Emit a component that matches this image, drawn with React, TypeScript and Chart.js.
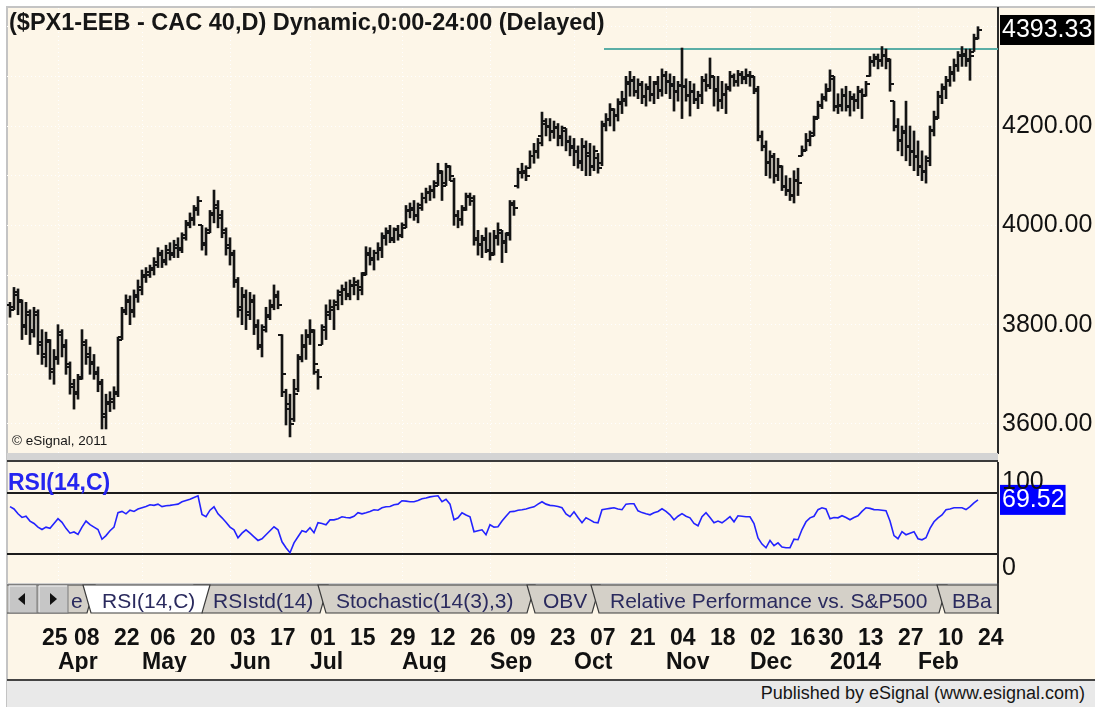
import React, { useEffect, useRef } from 'react';
import { Chart, registerables } from 'chart.js';

Chart.register(...registerables);

const FONT = '"Liberation Sans", Arial, Helvetica, sans-serif';
const CREAM = '#FDF6E8';

// ---- OHLC (one entry per trading day, first visible bar = index 0) ----
const opens = [
  3840,3835,3865,3845,3795,3825,3785,3825,3765,3735,
  3765,3705,3735,3785,3755,3715,3675,3665,3695,3765,
  3735,3725,3700,3685,3615,3645,3645,3665,3775,3825,
  3845,3830,3855,3875,3895,3900,3915,3920,3945,3930,
  3945,3945,3955,3955,3980,4005,4015,4035,4000,3965,
  3990,4025,4035,4015,3990,3955,3945,3885,3835,3855,
  3825,3845,3795,3755,3795,3815,3840,3855,3780,3665,
  3630,3610,3670,3735,3755,3780,3785,3705,3760,3795,
  3825,3830,3845,3865,3872,3862,3878,3880,3875,3905,
  3940,3930,3945,3955,3978,3988,3970,3992,3978,4000,
  4028,4035,4018,4040,4055,4068,4072,4085,4105,4085,
  4118,4090,4018,4012,4035,4058,4050,3970,3962,3975,
  3948,3945,3978,3985,3968,3985,4045,4080,4108,4105,
  4115,4140,4148,4180,4205,4198,4188,4198,4175,4190,
  4168,4160,4148,4125,4158,4145,4118,4135,4125,4205,
  4212,4232,4222,4248,4255,4288,4292,4268,4282,4258,
  4278,4262,4288,4272,4302,4288,4280,4268,4282,4278,
  4262,4268,4252,4262,4292,4282,4298,4270,4252,4262,
  4278,4298,4288,4302,4298,4302,4298,4270,4178,4158,
  4128,4138,4102,4118,4078,4072,4062,4092,4140,4152,
  4172,4185,4218,4242,4258,4275,4295,4238,4242,4262,
  4238,4258,4252,4268,4262,4300,4328,4338,4332,4342,
  4330,4250,4198,4172,4190,4158,4148,4138,4118,4108,
  4135,4192,4218,4258,4278,4292,4308,4322,4342,4340,
  4330,4350,4378,
];
const highs = [
  3845,3875,3872,3850,3845,3830,3835,3830,3790,3785,
  3770,3750,3800,3790,3770,3725,3690,3700,3790,3770,
  3755,3740,3715,3690,3660,3665,3675,3775,3835,3860,
  3858,3870,3890,3910,3915,3920,3935,3955,3950,3960,
  3965,3970,3975,3985,4010,4025,4040,4058,4000,3995,
  4030,4071,4050,4030,3995,3975,3950,3895,3875,3870,
  3865,3860,3810,3800,3835,3850,3880,3868,3780,3670,
  3660,3690,3740,3780,3790,3810,3790,3710,3800,3840,
  3850,3850,3870,3880,3886,3890,3895,3890,3905,3957,
  3955,3950,3965,3985,3995,4000,3995,4000,4005,4040,
  4045,4050,4045,4065,4075,4080,4090,4125,4110,4125,
  4120,4095,4030,4040,4065,4065,4060,3990,3980,3995,
  3985,3990,4005,3990,3985,4050,4050,4115,4125,4120,
  4150,4165,4175,4228,4215,4215,4210,4205,4200,4195,
  4180,4175,4160,4175,4170,4165,4160,4145,4210,4225,
  4245,4235,4255,4270,4300,4310,4300,4295,4290,4285,
  4300,4290,4300,4315,4310,4305,4300,4290,4357,4295,
  4290,4285,4270,4300,4305,4337,4300,4300,4290,4285,
  4310,4305,4312,4310,4315,4310,4300,4280,4190,4170,
  4150,4145,4135,4120,4100,4095,4110,4115,4160,4185,
  4190,4220,4250,4265,4285,4313,4300,4265,4275,4280,
  4270,4265,4280,4275,4290,4340,4345,4345,4360,4355,
  4335,4250,4215,4200,4250,4200,4190,4170,4150,4140,
  4200,4230,4270,4285,4300,4320,4335,4350,4360,4355,
  4355,4385,4400,
];
const lows = [
  3815,3830,3820,3770,3780,3760,3775,3740,3720,3715,
  3690,3680,3720,3735,3700,3660,3630,3650,3690,3720,
  3700,3690,3665,3590,3590,3625,3630,3655,3770,3820,
  3800,3815,3845,3860,3885,3895,3900,3915,3915,3920,
  3930,3935,3935,3945,3970,3995,4000,4020,3950,3940,
  3985,4005,3995,3975,3940,3920,3875,3815,3800,3790,
  3810,3780,3750,3735,3785,3810,3830,3832,3655,3598,
  3574,3605,3665,3725,3730,3760,3700,3670,3760,3770,
  3810,3790,3830,3840,3850,3850,3860,3850,3860,3900,
  3920,3910,3930,3935,3960,3965,3965,3970,3975,3995,
  4015,4010,4005,4030,4045,4050,4055,4080,4050,4080,
  4090,4000,3995,4000,4030,4040,3960,3940,3935,3945,
  3930,3940,3960,3925,3945,3970,4020,4075,4095,4090,
  4115,4125,4135,4160,4180,4170,4175,4160,4160,4150,
  4140,4120,4115,4110,4100,4100,4110,4105,4120,4190,
  4200,4190,4210,4225,4240,4260,4260,4255,4245,4240,
  4250,4245,4255,4260,4265,4255,4230,4250,4215,4250,
  4220,4245,4235,4245,4270,4275,4240,4230,4235,4225,
  4270,4280,4280,4285,4285,4280,4265,4170,4150,4100,
  4095,4085,4090,4070,4060,4050,4045,4060,4140,4150,
  4160,4180,4215,4235,4250,4270,4230,4225,4230,4230,
  4220,4230,4235,4215,4260,4300,4320,4315,4320,4315,
  4270,4190,4150,4140,4130,4120,4110,4100,4090,4085,
  4120,4180,4215,4245,4255,4280,4290,4310,4320,4320,
  4292,4350,4375,
];
const closes = [
  3830,3860,3850,3800,3820,3790,3820,3760,3740,3770,
  3710,3730,3780,3760,3720,3680,3660,3690,3760,3740,
  3720,3705,3680,3620,3640,3650,3660,3770,3830,3850,
  3826,3860,3870,3900,3906,3910,3926,3940,3926,3950,
  3940,3960,3950,3975,4000,4010,4030,4050,3960,3985,
  4020,4040,4020,3985,3960,3940,3890,3830,3860,3820,
  3850,3800,3760,3790,3820,3835,3860,3840,3700,3640,
  3600,3660,3730,3760,3775,3790,3720,3695,3790,3820,
  3835,3840,3860,3870,3858,3880,3885,3870,3900,3945,
  3935,3945,3950,3975,3985,3975,3990,3980,3995,4030,
  4030,4020,4035,4055,4065,4070,4080,4110,4080,4120,
  4100,4020,4010,4030,4060,4055,3975,3960,3970,3950,
  3940,3975,3990,3965,3980,4040,4035,4105,4110,4100,
  4140,4150,4165,4210,4200,4190,4195,4180,4195,4170,
  4155,4150,4130,4160,4140,4120,4150,4115,4200,4215,
  4235,4220,4245,4250,4285,4290,4270,4285,4260,4275,
  4265,4285,4270,4300,4290,4285,4270,4280,4280,4260,
  4270,4255,4260,4290,4280,4300,4275,4250,4265,4275,
  4300,4290,4305,4295,4300,4300,4275,4180,4160,4125,
  4140,4100,4120,4080,4070,4060,4090,4085,4150,4170,
  4180,4215,4240,4255,4270,4300,4240,4240,4260,4240,
  4255,4250,4270,4260,4285,4330,4335,4330,4340,4335,
  4285,4200,4170,4185,4160,4150,4140,4120,4110,4130,
  4190,4215,4260,4275,4290,4305,4320,4340,4345,4335,
  4340,4375,4393.33,
];

// ---- RSI(14,C), one value per bar ----
const rsi = [
  64,62,58,55,56,52,50,47,45,47,
  46,50,54,51,46,42,43,41,47,52,
  49,47,45,37,40,44,47,59,60,58,
  61,60,62,63,64,65.5,65,66,64,64.7,
  65,65.5,66,68,69,70,71.5,72.9,57.5,55.6,
  61,63.8,58,54.7,51,47,44.8,38.2,42,44.8,
  42,39,36,37.4,40.7,44,47.3,44.8,34.9,30,
  25.8,34,39,44,43,46.5,42.4,50.6,50,49,
  53,53,54,55.6,55,54.7,56,58.9,58,58.9,
  60,61.4,61,63,63.8,64,65.5,66,68.8,68.5,
  68,68,69,70.5,71,72,72.5,72.9,68,70,
  66,53.1,54.7,58.9,57,55.6,43.2,44,44.8,40.7,
  49,47,47.3,52,56,59.7,60,61,61.4,62,
  63,63.8,66,68,66,65,64.7,64,63,58,
  55.6,59.7,55,50.6,54.7,53,51,50.6,61.4,62,
  62.5,63,62,61.4,66,66.3,66.3,60.5,59,58,
  57.2,58.9,60,62.2,60,57.2,53.1,56,58.1,56,
  54.7,50,48.1,55.6,58.9,55,50.6,52,50.6,53,
  55.6,51.4,56.4,56,55.6,55.6,50,38,33,29.9,
  36,31.6,34,30.5,29.9,30,37,36.6,45,51.4,
  54.7,56,61.4,63,62,53.9,55,54.7,56.4,55,
  53.1,55,56.4,60,63,62.5,61.5,61.4,61,60.5,
  52,40,37.4,43.2,40.7,42,43.2,37.4,36.5,38.2,
  46,51.4,54.7,57,61.4,62,63,63,63,61.5,
  64,67.1,69.52,
];

// ---- axes / levels ----
const LAST_PRICE = 4393.33;
const LAST_RSI = 69.52;
const priceGridTicks = [3600, 3700, 3800, 3900, 4000, 4100, 4200, 4300, 4393.33, 4400];
const priceLabelTicks = [3600, 3800, 4000, 4200];
const resistanceLevel = 4355;
const resistanceStart = 148.5;
const rsiBands = [25, 75];
const rsiScaleLabels = [{ at: 12.8, text: '0' }, { at: 84.3, text: '100' }];

const dayTickPos = [8, 16, 26, 35, 45, 55, 65, 75, 85, 95, 105, 115, 125, 135, 145, 155, 165, 175, 185, 195, 202, 212, 222, 232, 242];
const dayTickLabels = ['25', '08', '22', '06', '20', '03', '17', '01', '15', '29', '12', '26', '09', '23', '07', '21', '04', '18', '02', '16', '30', '13', '27', '10', '24'];
const monthTickPos = [12, 33, 55, 75, 98, 120, 141, 164, 185, 205, 227];
const monthTickLabels = ['Apr', 'May', 'Jun', 'Jul', 'Aug', 'Sep', 'Oct', 'Nov', 'Dec', '2014', 'Feb'];

const X_MIN = -0.75;
const X_MAX = 247;
const PRICE_MIN = 3541.6;
const PRICE_MAX = 4437.6;

const tabs = [
  { label: 'e', L: -40, R: 95, tx: 71 },
  { label: 'RSIstd(14)', L: 194, R: 328, tx: 213 },
  { label: 'Stochastic(14(3),3)', L: 318, R: 535, tx: 336 },
  { label: 'OBV', L: 527, R: 600, tx: 543 },
  { label: 'Relative Performance vs. S&P500', L: 591, R: 947, tx: 610 },
  { label: 'BBa', L: 937, R: 1060, tx: 952 },
];
const activeTab = { label: 'RSI(14,C)', L: 83, R: 210, tx: 102 };

function makeTick(left: boolean) {
  const c = document.createElement('canvas');
  c.width = 8;
  c.height = 2;
  const g = c.getContext('2d')!;
  g.fillStyle = '#141414';
  g.fillRect(left ? 0 : 4, 0, 4, 2);
  return c;
}

export default function App() {
  const refA = useRef<HTMLCanvasElement>(null);
  const refB = useRef<HTMLCanvasElement>(null);

  useEffect(() => {
    const openTick = makeTick(true);
    const closeTick = makeTick(false);

    const priceChart = new Chart(refA.current!, {
      type: 'scatter',
      data: {
        datasets: [
          {
            type: 'bar',
            data: highs.map((h, k) => ({ x: k, y: [lows[k], h] })) as any,
            backgroundColor: '#141414',
            borderWidth: 0,
            barThickness: 2,
          } as any,
          {
            type: 'scatter',
            data: opens.map((o, k) => ({ x: k, y: o })),
            pointStyle: openTick as any,
            pointRadius: 4,
          },
          {
            type: 'scatter',
            data: closes.map((c, k) => ({ x: k, y: c })),
            pointStyle: closeTick as any,
            pointRadius: 4,
          },
          {
            type: 'line',
            data: [
              { x: resistanceStart, y: resistanceLevel },
              { x: X_MAX, y: resistanceLevel },
            ],
            borderColor: '#5BAEA6',
            borderWidth: 2,
            pointRadius: 0,
          },
        ],
      },
      options: {
        responsive: false,
        animation: false,
        events: [],
        layout: { padding: { left: 7, top: 8, right: 0, bottom: 9 } },
        plugins: { legend: { display: false }, tooltip: { enabled: false } },
        scales: {
          x: {
            type: 'linear',
            min: X_MIN,
            max: X_MAX,
            offset: false,
            afterBuildTicks: (s: any) => {
              s.ticks = monthTickPos.map((v) => ({ value: v }));
            },
            afterFit: (s: any) => {
              s.height = 0;
              s.paddingLeft = 0;
              s.paddingRight = 0;
            },
            ticks: { display: false, autoSkip: false },
            grid: { color: '#FFFFFF', lineWidth: 1, drawTicks: false, offset: false },
            border: { display: false, dash: [1, 3] },
          },
          y: {
            type: 'linear',
            position: 'right',
            min: PRICE_MIN,
            max: PRICE_MAX,
            afterBuildTicks: (s: any) => {
              s.ticks = priceGridTicks.map((v) => ({ value: v }));
            },
            afterFit: (s: any) => {
              s.width = 97;
              s.paddingTop = 0;
              s.paddingBottom = 0;
            },
            ticks: {
              autoSkip: false,
              padding: 4,
              font: { family: FONT, size: 25 },
              color: (ctx: any) => (ctx.tick && ctx.tick.value === LAST_PRICE ? '#FFFFFF' : '#111111'),
              showLabelBackdrop: (ctx: any) => !!ctx.tick && ctx.tick.value === LAST_PRICE,
              backdropColor: '#000000',
              backdropPadding: { top: 0, bottom: 0, left: 2, right: 2 },
              callback: (v: any) => {
                if (v === LAST_PRICE) return LAST_PRICE.toFixed(2);
                if (priceLabelTicks.includes(v)) return Number(v).toFixed(2);
                return '';
              },
            } as any,
            grid: {
              color: (ctx: any) => (ctx.tick && ctx.tick.value === LAST_PRICE ? 'rgba(0,0,0,0)' : '#FFFFFF'),
              lineWidth: 1,
              drawTicks: false,
            },
            border: { display: true, color: '#2b2b2b', width: 2, dash: [1, 3] },
          },
        },
      },
    });

    const rsiChart = new Chart(refB.current!, {
      type: 'line',
      data: {
        datasets: [
          {
            data: rsi.map((v, k) => ({ x: k, y: v })),
            borderColor: '#2323FF',
            borderWidth: 1.6,
            pointRadius: 0,
            tension: 0,
          },
        ],
      },
      options: {
        responsive: false,
        animation: false,
        events: [],
        layout: { padding: { left: 7, top: 1, right: 0, bottom: 35 } },
        plugins: { legend: { display: false }, tooltip: { enabled: false } },
        scales: {
          x: {
            type: 'linear',
            position: 'bottom',
            weight: 0,
            min: X_MIN,
            max: X_MAX,
            offset: false,
            afterBuildTicks: (s: any) => {
              s.ticks = dayTickPos.map((v) => ({ value: v }));
            },
            afterFit: (s: any) => {
              s.height = 63;
              s.paddingLeft = 0;
              s.paddingRight = 0;
            },
            ticks: {
              autoSkip: false,
              maxRotation: 0,
              minRotation: 0,
              align: 'start',
              padding: 33,
              color: '#111111',
              font: { family: FONT, size: 23, weight: 'bold' },
              callback: (v: any) => {
                const i = dayTickPos.indexOf(v);
                return i >= 0 ? dayTickLabels[i] : '';
              },
            },
            grid: { display: false },
            border: { display: false },
          },
          x2: {
            type: 'linear',
            position: 'bottom',
            weight: 1,
            min: X_MIN,
            max: X_MAX,
            offset: false,
            afterBuildTicks: (s: any) => {
              s.ticks = monthTickPos.map((v) => ({ value: v }));
            },
            afterFit: (s: any) => {
              s.height = 25;
              s.paddingLeft = 0;
              s.paddingRight = 0;
            },
            ticks: {
              autoSkip: false,
              maxRotation: 0,
              minRotation: 0,
              align: 'start',
              padding: 2,
              color: '#111111',
              font: { family: FONT, size: 23, weight: 'bold' },
              callback: (v: any) => {
                const i = monthTickPos.indexOf(v);
                return i >= 0 ? monthTickLabels[i] : '';
              },
            },
            grid: { color: '#FFFFFF', lineWidth: 1, drawTicks: false },
            border: { display: false, dash: [1, 3] },
          },
          y: {
            type: 'linear',
            position: 'right',
            min: 0,
            max: 100,
            afterBuildTicks: (s: any) => {
              const vals = [rsiScaleLabels[0].at, rsiBands[0], LAST_RSI, rsiBands[1], rsiScaleLabels[1].at];
              s.ticks = vals.map((v) => ({ value: v }));
            },
            afterFit: (s: any) => {
              s.width = 97;
              s.paddingTop = 0;
              s.paddingBottom = 0;
            },
            ticks: {
              autoSkip: false,
              padding: 4,
              font: { family: FONT, size: 25 },
              color: (ctx: any) => (ctx.tick && ctx.tick.value === LAST_RSI ? '#FFFFFF' : '#111111'),
              showLabelBackdrop: (ctx: any) => !!ctx.tick && ctx.tick.value === LAST_RSI,
              backdropColor: '#0000FF',
              backdropPadding: { top: 0, bottom: 0, left: 2, right: 1 },
              callback: (v: any) => {
                if (v === LAST_RSI) return LAST_RSI.toFixed(2);
                const lab = rsiScaleLabels.find((r) => r.at === v);
                return lab ? lab.text : '';
              },
            } as any,
            grid: {
              color: (ctx: any) => (ctx.tick && rsiBands.includes(ctx.tick.value) ? '#1c1c1c' : 'rgba(0,0,0,0)'),
              lineWidth: 2,
              drawTicks: false,
            },
            border: { display: true, color: '#2b2b2b', width: 2 },
          },
        },
      },
    });

    return () => {
      priceChart.destroy();
      rsiChart.destroy();
    };
  }, []);

  const tabPoly = (L: number, R: number) => `${L},2 ${R},2 ${R - 8},30 ${L + 8},30`;

  return (
    <div style={{ position: 'absolute', left: 0, top: 0, width: 1095, height: 707, background: '#FFFFFF', overflow: 'hidden', fontFamily: FONT }}>
      <div style={{ position: 'absolute', left: 6, top: 6, width: 1089, height: 701, background: CREAM, borderLeft: '2px solid #C4C4C4', borderTop: '2px solid #C4C4C4', boxSizing: 'border-box' }} />
      <canvas ref={refA} width={1095} height={462} style={{ position: 'absolute', left: 0, top: 0, display: 'block' }} />
      <canvas ref={refB} width={1095} height={245} style={{ position: 'absolute', left: 0, top: 462, display: 'block' }} />

      <div style={{ position: 'absolute', left: 9, top: 9, fontSize: 23.5, fontWeight: 'bold', lineHeight: '26px', color: '#161616', whiteSpace: 'nowrap' }}>
        ($PX1-EEB - CAC 40,D) Dynamic,0:00-24:00 (Delayed)
      </div>
      <div style={{ position: 'absolute', left: 12, top: 433, fontSize: 13.5, lineHeight: '16px', color: '#161616', whiteSpace: 'nowrap' }}>
        © eSignal, 2011
      </div>

      <div style={{ position: 'absolute', left: 7, top: 453, width: 991, height: 7, background: '#D4D4D4', borderBottom: '2px solid #3a3a3a' }} />

      <div style={{ position: 'absolute', left: 8, top: 469, fontSize: 23, fontWeight: 'bold', lineHeight: '26px', color: '#2525F0', whiteSpace: 'nowrap' }}>
        RSI(14,C)
      </div>

      <svg width={1095} height={32} style={{ position: 'absolute', left: 0, top: 583 }}>
        <defs>
          <clipPath id="tabclip">
            <rect x={7} y={0} width={991} height={32} />
          </clipPath>
        </defs>
        <rect x={7} y={0} width={991} height={2} fill="#CFCFCF" />
        <rect x={7} y={2} width={991} height={1} fill="#8A8A8A" />
        <g clipPath="url(#tabclip)">
          {tabs.map((t) => (
            <g key={t.label}>
              <polygon points={tabPoly(t.L, t.R)} fill="#D4D0C8" stroke="#3c3c3c" strokeWidth={1.2} />
              <text x={t.tx} y={17} dominantBaseline="central" fontSize={21} fill="#2a2a5e" fontFamily={FONT}>
                {t.label}
              </text>
            </g>
          ))}
          <polygon points={tabPoly(activeTab.L, activeTab.R)} fill="#FFFFFF" stroke="#3c3c3c" strokeWidth={1.2} />
          <text x={activeTab.tx} y={17} dominantBaseline="central" fontSize={21} fill="#2a2a5e" fontFamily={FONT}>
            {activeTab.label}
          </text>
        </g>
        <rect x={8} y={2} width={29} height={28} fill="#C6C6C6" stroke="#7A7A7A" strokeWidth={1} />
        <rect x={38} y={2} width={30} height={28} fill="#C6C6C6" stroke="#7A7A7A" strokeWidth={1} />
        <polyline points="9,29 9,3 36,3" fill="none" stroke="#F2F2F2" strokeWidth={1} />
        <polyline points="39,29 39,3 67,3" fill="none" stroke="#F2F2F2" strokeWidth={1} />
        <polygon points="18,16 25,10 25,22" fill="#111111" />
        <polygon points="50,10 50,22 57,16" fill="#111111" />
        <rect x={997} y={0} width={2} height={31} fill="#3a3a3a" />
      </svg>

      <div style={{ position: 'absolute', left: 7, top: 679, width: 1088, height: 28, background: '#E9E9E9', borderTop: '2px solid #444444', boxSizing: 'border-box', textAlign: 'right', paddingRight: 10, fontSize: 18, lineHeight: '24px', color: '#161616', whiteSpace: 'nowrap' }}>
        Published by eSignal (www.esignal.com)
      </div>
    </div>
  );
}
